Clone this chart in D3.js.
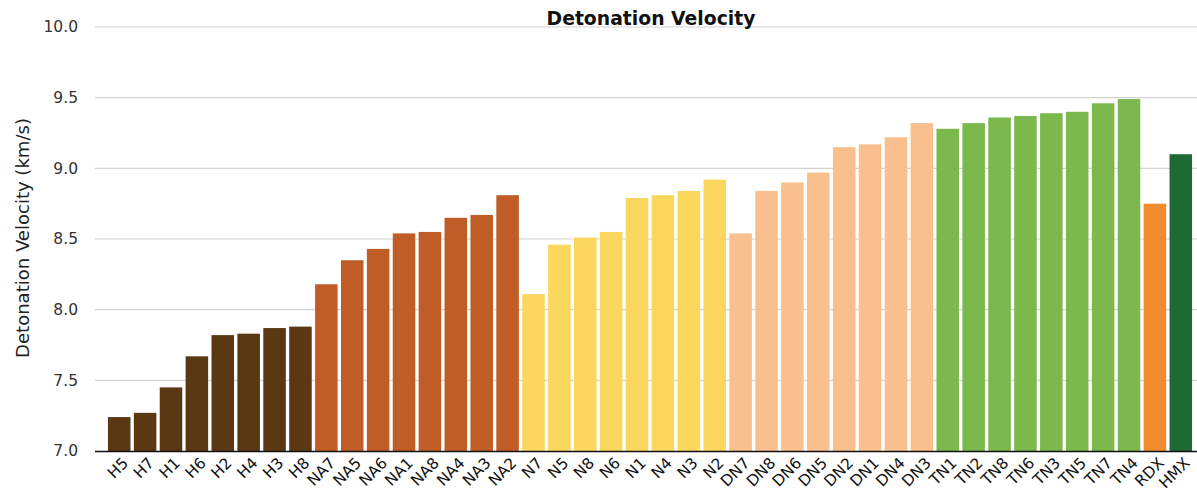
<!DOCTYPE html>
<html>
<head>
<meta charset="utf-8">
<script src="https://cdn.jsdelivr.net/npm/d3@7"></script>
<style>
  html, body { margin: 0; padding: 0; background: #ffffff; }
  svg { display: block; }
</style>
</head>
<body>
<svg id="chart" width="1197" height="492"></svg>
<script>
const categories = ["H5","H7","H1","H6","H2","H4","H3","H8",
  "NA7","NA5","NA6","NA1","NA8","NA4","NA3","NA2",
  "N7","N5","N8","N6","N1","N4","N3","N2",
  "DN7","DN8","DN6","DN5","DN2","DN1","DN4","DN3",
  "TN1","TN2","TN8","TN6","TN3","TN5","TN7","TN4",
  "RDX","HMX"];
const values = [7.24,7.27,7.45,7.67,7.82,7.83,7.87,7.88,
  8.18,8.35,8.43,8.54,8.55,8.65,8.67,8.81,
  8.11,8.46,8.51,8.55,8.79,8.81,8.84,8.92,
  8.54,8.84,8.90,8.97,9.15,9.17,9.22,9.32,
  9.28,9.32,9.36,9.37,9.39,9.40,9.46,9.49,
  8.75,9.10];
const groups = ["H","H","H","H","H","H","H","H",
  "NA","NA","NA","NA","NA","NA","NA","NA",
  "N","N","N","N","N","N","N","N",
  "DN","DN","DN","DN","DN","DN","DN","DN",
  "TN","TN","TN","TN","TN","TN","TN","TN",
  "RDX","HMX"];
const groupNames = ["H","NA","N","DN","TN","RDX","HMX"];
const groupColors = ["#5a3814","#c05d27","#fbd75e","#f9c08d","#7cb84c","#f28b2d","#1d6a35"];
const yTicks = [7.0,7.5,8.0,8.5,9.0,9.5,10.0];
const chartTitle = "Detonation Velocity";
const yLabel = "Detonation Velocity (km/s)";

(function () {
const svg = d3.select("#chart");
const W = 1197;
const mLeft = 95, mRight = 1205, mTop = 27, mBottom = 451;
const font = "'DejaVu Sans', Verdana, sans-serif";

const x = d3.scaleBand().domain(categories).range([mLeft, mRight]).paddingInner(0.13).paddingOuter(0.5);
const y = d3.scaleLinear().domain([7, 10]).range([mBottom, mTop]);
const color = d3.scaleOrdinal().domain(groupNames).range(groupColors);

function fitText(sel, target) {
  const n = sel.node();
  const fs = parseFloat(sel.attr("font-size"));
  const len = n.getComputedTextLength();
  if (len > 0) sel.attr("font-size", (fs * target / len).toFixed(2));
}

// gridlines
svg.append("g").selectAll("line").data(yTicks.filter(d => d > 7)).join("line")
  .attr("x1", mLeft).attr("x2", W)
  .attr("y1", d => y(d)).attr("y2", d => y(d))
  .attr("stroke", "#d2d2d2").attr("stroke-width", 1.2);

// y axis labels
const yAxis = d3.axisLeft(y).tickValues(yTicks).tickFormat(d3.format(".1f")).tickSize(0).tickPadding(0);
const ya = svg.append("g").attr("transform", `translate(${mLeft - 17},0)`).call(yAxis);
ya.select(".domain").remove();
ya.selectAll("text").attr("font-family", font).attr("font-size", 15.5).attr("fill", "#333");

// bars
svg.append("g").selectAll("rect").data(categories).join("rect")
  .attr("x", d => x(d))
  .attr("width", x.bandwidth())
  .attr("y", (d, i) => y(values[i]))
  .attr("height", (d, i) => y(7) - y(values[i]))
  .attr("fill", (d, i) => color(groups[i]));

// x axis line
svg.append("line").attr("x1", mLeft).attr("x2", W).attr("y1", mBottom + 0.5).attr("y2", mBottom + 0.5)
  .attr("stroke", "#111").attr("stroke-width", 1.6);

// x labels
const xAxis = d3.axisBottom(x).tickSize(0).tickPadding(0);
const xa = svg.append("g").attr("transform", `translate(0,${mBottom})`).call(xAxis);
xa.select(".domain").remove();
xa.selectAll("text")
  .attr("font-family", font).attr("font-size", 15.5).attr("fill", "#111")
  .attr("text-anchor", "end")
  .attr("dy", 0)
  .attr("transform", "translate(10,13) rotate(-45)");

// title
const t = svg.append("text").attr("x", 651).attr("y", 25).attr("text-anchor", "middle")
  .attr("font-family", font).attr("font-weight", "bold").attr("font-size", 15.5)
  .attr("fill", "#111").text(chartTitle);
fitText(t, 209);

// y label
const yl = svg.append("text").attr("transform", `translate(29,${(118 + 358) / 2}) rotate(-90)`)
  .attr("text-anchor", "middle").attr("font-family", font).attr("font-size", 16)
  .attr("fill", "#222").text(yLabel);
fitText(yl, 240);
})();
</script>
</body>
</html>
